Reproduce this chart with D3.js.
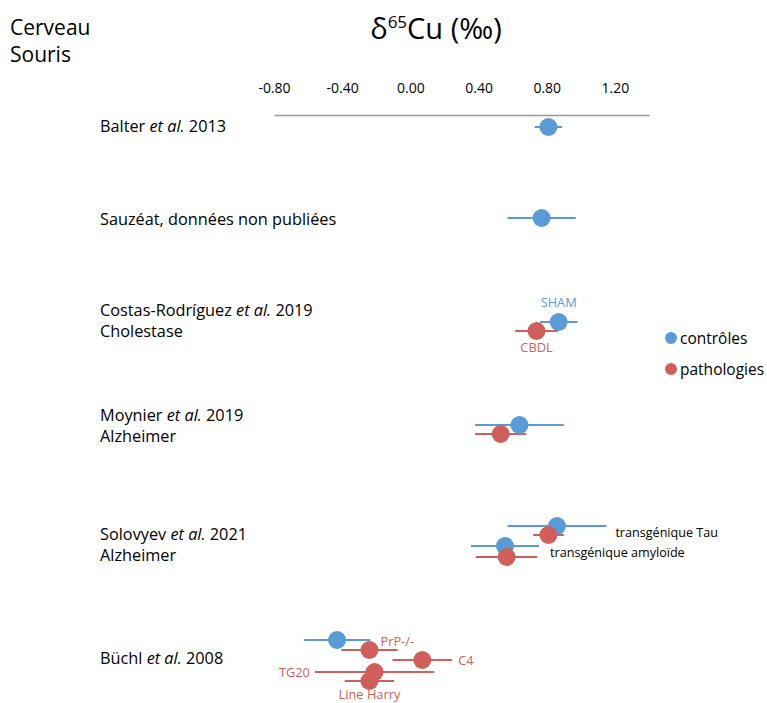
<!DOCTYPE html>
<html><head><meta charset="utf-8">
<script src="https://cdn.jsdelivr.net/npm/d3@7"></script>
<style>
body{margin:0;background:#fff;}
text{font-family:"Open Sans",Lato,sans-serif;}
</style></head>
<body><svg id="c" width="767" height="703"></svg>
<script>
// x-axis ticks
const xTicks = [-0.8, -0.4, 0.0, 0.4, 0.8, 1.2];
// study labels (lines) and their vertical slot
const studyLines = [
  [["Balter ", "et al.", " 2013"]],
  [["Sauzéat, données non publiées"]],
  [["Costas-Rodríguez ", "et al.", " 2019"], ["Cholestase"]],
  [["Moynier ", "et al.", " 2019"], ["Alzheimer"]],
  [["Solovyev ", "et al.", " 2021"], ["Alzheimer"]],
  [["Büchl ", "et al.", " 2008"]]
];
const studyY = [0.12, 1.05, 1.96, 3.01, 4.20, 5.44];
// points
const group  = ["c","c","c","p","c","p","c","p","c","p","c","p","p","p","p"];
const value  = [0.81,0.77,0.87,0.74,0.64,0.53,0.86,0.81,0.555,0.565,-0.43,-0.24,0.07,-0.21,-0.24];
const err    = [0.08,0.20,0.11,0.125,0.26,0.15,0.29,0.09,0.20,0.18,0.195,0.165,0.175,0.35,0.145];
const ypos   = [0.12,1.03,2.07,2.16,3.10,3.19,4.11,4.20,4.31,4.42,5.25,5.35,5.45,5.57,5.66];
const ptLabel= ["","","SHAM","CBDL","","","transgénique Tau","","transgénique amyloïde","","","PrP-/-","C4","TG20","Line Harry"];
const labelPos=["","","above","below","","","right","","between","","","aboveright","right","left","below"];
const legendLabels = ["contrôles","pathologies"];

const color = {c:"#5B9BD5", p:"#CF5F5A"};
const svg = d3.select("#c");
const x = d3.scaleLinear().domain([-0.8, 1.4]).range([274, 649]);
const y = d3.scaleLinear().domain([0, 5.88]).range([115, 703]);

// title
const t = svg.append("text").attr("x",436).attr("y",39).attr("text-anchor","middle")
  .attr("font-size",29).attr("fill","#000");
t.append("tspan").text("δ");
t.append("tspan").attr("font-size",17).attr("dy",-11).text("65");
t.append("tspan").attr("dy",11).text("Cu (‰)");

svg.append("text").attr("x",10).attr("y",35).attr("font-size",21).text("Cerveau");
svg.append("text").attr("x",10).attr("y",62).attr("font-size",21).text("Souris");

// axis
const axis = d3.axisTop(x).tickValues(xTicks).tickFormat(d => d3.format(".2f")(d).replace("−","-")).tickSize(0).tickPadding(22);
const ag = svg.append("g").attr("transform",`translate(0,${y(0)})`).call(axis);
ag.select(".domain").attr("stroke","#999").attr("stroke-width",1.5);
ag.selectAll("text").attr("font-size",14).attr("fill","#000").attr("font-family","'Open Sans',sans-serif");

// study labels
studyLines.forEach((lines,i)=>{
  lines.forEach((parts,j)=>{
    const tx = svg.append("text").attr("x",100).attr("y",y(studyY[i])+j*21+5).attr("font-size",16.3).attr("fill","#000");
    parts.forEach(p=>{
      const s = tx.append("tspan").text(p);
      if(p==="et al.") s.attr("font-style","italic");
    });
  });
});

const pts = value.map((v,i)=>({v, e:err[i], y:ypos[i], g:group[i], lab:ptLabel[i], pos:labelPos[i]}));
const g = svg.append("g");
g.selectAll("line.eb").data(pts).join("line").attr("class","eb")
  .attr("x1",d=>x(d.v-d.e)).attr("x2",d=>x(d.v+d.e))
  .attr("y1",d=>y(d.y)).attr("y2",d=>y(d.y))
  .attr("stroke",d=>color[d.g]).attr("stroke-width",2);
g.selectAll("circle").data(pts).join("circle")
  .attr("cx",d=>x(d.v)).attr("cy",d=>y(d.y)).attr("r",9)
  .attr("fill",d=>color[d.g]);

// point labels
pts.forEach(d=>{
  if(!d.lab) return;
  const big = d.lab.startsWith("transg");
  const lt = svg.append("text").attr("font-size",big?12.6:12.8)
    .attr("fill", big ? "#000" : color[d.g]).text(d.lab);
  if(d.pos==="above") lt.attr("x",x(d.v)).attr("y",y(d.y)-15).attr("text-anchor","middle");
  if(d.pos==="below") lt.attr("x",x(d.v)).attr("y",y(d.y)+(d.lab==="Line Harry"?17.5:21)).attr("text-anchor","middle");
  if(d.pos==="aboveright") lt.attr("x",x(d.v)+11).attr("y",y(d.y)-4).attr("text-anchor","start");
  if(d.pos==="between") lt.attr("x",x(d.v+d.e)+11).attr("y",y(d.y)+11).attr("text-anchor","start");
  if(d.pos==="right") lt.attr("x",big? x(d.v+d.e)+9 : x(d.v+d.e)+6).attr("y",y(d.y)+(big?11:5)).attr("text-anchor","start");
  if(d.pos==="left") lt.attr("x",x(d.v-d.e)-5).attr("y",y(d.y)+5).attr("text-anchor","end");
});

// legend
legendLabels.forEach((l,i)=>{
  const ly = 338 + i*31;
  svg.append("circle").attr("cx",671).attr("cy",ly).attr("r",6).attr("fill",i?color.p:color.c);
  svg.append("text").attr("x",680).attr("y",ly+6).attr("font-size",15.5).text(l);
});
</script></body></html>
